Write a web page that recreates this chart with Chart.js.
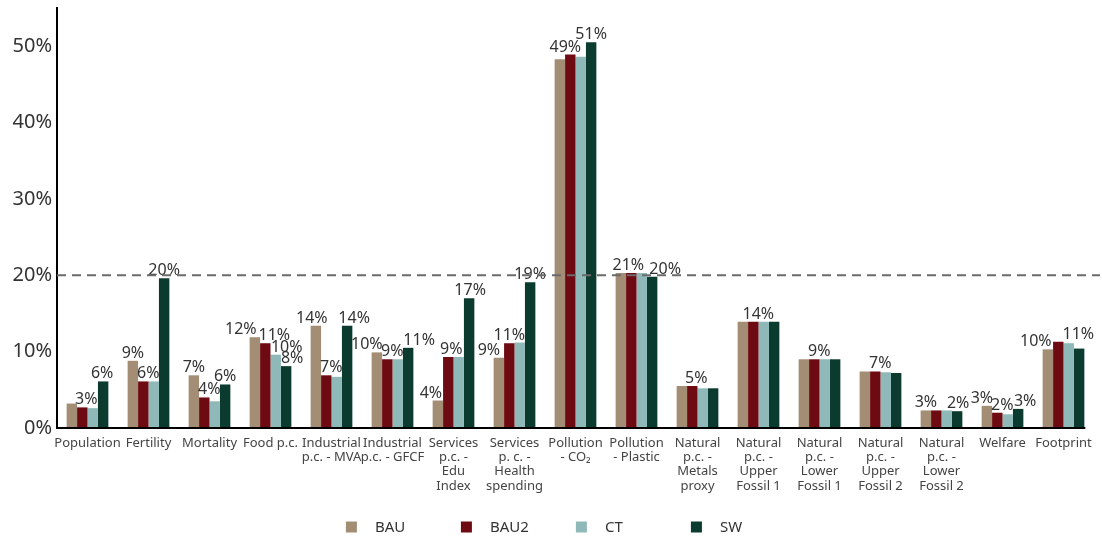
<!DOCTYPE html>
<html>
<head>
<meta charset="utf-8">
<style>
  html, body { margin: 0; padding: 0; background: #fff; }
  #wrap { width: 1102px; height: 537px; }
</style>
<script src="https://cdn.jsdelivr.net/npm/chart.js@4/dist/chart.umd.min.js"></script>
</head>
<body>
<div id="wrap"><canvas id="chart" width="1102" height="537"></canvas></div>
<script>
const categories = [
  'Population', 'Fertility', 'Mortality', 'Food p.c.',
  ['Industrial', 'p.c. - MVA'], ['Industrial', 'p.c. - GFCF'],
  ['Services', 'p.c. -', 'Edu', 'Index'], ['Services', 'p. c. -', 'Health', 'spending'],
  ['Pollution', '- CO\u2082'], ['Pollution', '- Plastic'],
  ['Natural', 'p.c. -', 'Metals', 'proxy'], ['Natural', 'p.c. -', 'Upper', 'Fossil 1'],
  ['Natural', 'p.c. -', 'Lower', 'Fossil 1'], ['Natural', 'p.c. -', 'Upper', 'Fossil 2'],
  ['Natural', 'p.c. -', 'Lower', 'Fossil 2'], 'Welfare', 'Footprint'
];

// values in %
const bau  = [3.2, 8.8, 6.9, 11.9, 13.4, 9.9, 3.6, 9.2, 48.3, 20.3, 5.5, 13.9, 9.0, 7.4, 2.3, 2.9, 10.3];
const bau2 = [2.7, 6.1, 4.0, 11.1, 6.9, 9.0, 9.3, 11.1, 48.9, 20.3, 5.5, 13.9, 9.0, 7.4, 2.3, 2.0, 11.3];
const ct   = [2.6, 6.1, 3.5, 9.6, 6.7, 9.0, 9.3, 11.2, 48.6, 20.3, 5.2, 13.9, 9.0, 7.3, 2.3, 1.8, 11.1];
const sw   = [6.1, 19.6, 5.7, 8.1, 13.4, 10.5, 17.0, 19.1, 50.5, 19.8, 5.2, 13.9, 9.0, 7.2, 2.2, 2.5, 10.4];

// value labels shown above some bars
const bauLabels  = [null, '9%', '7%', '12%', '14%', '10%', '4%', '9%', null, null, null, null, null, null, '3%', '3%', '10%'];
const bau2Labels = ['3%', '6%', '4%', '11%', '7%', '9%', '9%', '11%', '49%', '21%', '5%', '14%', '9%', '7%', null, '2%', '11%'];
const ctLabels   = [null, null, null, '10%', null, null, null, null, null, null, null, null, null, null, null, null, null];
const swLabels   = ['6%', '20%', '6%', '8%', '14%', '11%', '17%', '19%', '51%', '20%', null, null, null, null, '2%', '3%', null];

const targetLine = 20;

const seriesNames = ['BAU', 'BAU2', 'CT', 'SW'];
const colors = ['#a38d74', '#6e0a12', '#8fb9b8', '#0b3a2e'];

const valueLabels = {
  id: 'valueLabels',
  afterDatasetsDraw(chart, args, opts) {
    const ctx = chart.ctx;
    ctx.save();
    ctx.font = '16px "Noto Sans"';
    ctx.fillStyle = '#333';
    ctx.textAlign = 'center';
    ctx.textBaseline = 'alphabetic';
    chart.data.datasets.forEach((ds, di) => {
      const meta = chart.getDatasetMeta(di);
      ds.labels.forEach((txt, i) => {
        if (!txt) return;
        const bar = meta.data[i];
        const dx = (opts.shift[di] && opts.shift[di][i]) || 0;
        ctx.fillText(txt, bar.x + dx, bar.y - 3);
      });
    });
    ctx.restore();
  }
};

const extras = {
  id: 'extras',
  afterDraw(chart) {
    const ctx = chart.ctx;
    const area = chart.chartArea;
    const y = chart.scales.y;
    ctx.save();
    // dashed 20% line
    ctx.strokeStyle = '#6b6b6b';
    ctx.lineWidth = 2;
    ctx.setLineDash([9, 6]);
    const ty = y.getPixelForValue(targetLine);
    ctx.beginPath();
    ctx.moveTo(area.left, ty);
    ctx.lineTo(chart.width - 2, ty);
    ctx.stroke();
    ctx.setLineDash([]);

    // x axis line, ends at last bar
    const last = chart.getDatasetMeta(3).data[categories.length - 1];
    ctx.strokeStyle = '#000';
    ctx.lineWidth = 2;
    ctx.beginPath();
    ctx.moveTo(area.left - 1, area.bottom);
    ctx.lineTo(last.x + last.width / 2 + 1, area.bottom);
    ctx.stroke();

    // legend
    ctx.font = '15px "Noto Sans"';
    ctx.fillStyle = '#333';
    ctx.textBaseline = 'middle';
    ctx.textAlign = 'left';
    const step = 115, box = 11, gap = 18;
    const total = step * 3 + box + gap + ctx.measureText(seriesNames[3]).width;
    let x = chart.width / 2 - total / 2 - 7;
    const ly = 527;
    seriesNames.forEach((name, i) => {
      ctx.fillStyle = colors[i];
      ctx.fillRect(x, ly - box / 2, box, box);
      ctx.fillStyle = '#333';
      ctx.fillText(name, x + box + gap, ly + 1);
      x += step;
    });
    ctx.restore();
  }
};

const series = [bau, bau2, ct, sw];
const labelSets = [bauLabels, bau2Labels, ctLabels, swLabels];

new Chart(document.getElementById('chart'), {
  type: 'bar',
  data: {
    labels: categories,
    datasets: series.map((vals, i) => ({
      label: seriesNames[i],
      data: vals,
      labels: labelSets[i],
      backgroundColor: colors[i],
      borderWidth: 0,
      categoryPercentage: 0.684,
      barPercentage: 1.0
    }))
  },
  options: {
    responsive: false,
    animation: false,
    layout: { padding: { top: 8, right: 8, left: 0, bottom: 0 } },
    plugins: {
      legend: { display: false },
      tooltip: { enabled: false },
      valueLabels: {
        shift: [
          [0, 0, 0, -14, -4, -10, -7, -10, 0, 0, 0, 0, 0, 0, 0, -5, -12],
          [4, 5, 5, 9, 5, 5, 3, 0, -5, -3, 4, 5, 5, 5, 0, 5, 20],
          [0, 0, 0, 11, 0, 0, 0, 0, 0, 0, 0, 0, 0, 0, 0, 0, 0],
          [-1, 0, 0, 6, 7, 11, 1, 0, 0, 13, 0, 0, 0, 0, 1, 7, 0]
        ]
      }
    },
    scales: {
      x: {
        grid: { display: false, drawTicks: false },
        border: { display: false },
        ticks: {
          autoSkip: false,
          maxRotation: 0,
          padding: 8,
          color: '#444',
          font: { family: '"Noto Sans"', size: 13, lineHeight: 1.1 }
        },
        afterFit: (scale) => { scale.height = 109; }
      },
      y: {
        min: 0,
        max: 55,
        grid: { display: false, drawTicks: false },
        border: { display: true, color: '#000', width: 2 },
        ticks: {
          stepSize: 10,
          padding: 5,
          color: '#333',
          font: { family: '"Noto Sans"', size: 20 },
          callback: (v) => v + '%'
        },
        afterBuildTicks: (scale) => {
          scale.ticks = scale.ticks.filter(t => t.value % 10 === 0);
        },
        afterFit: (scale) => {
          scale.width = 57;
          scale.paddingTop = 0;
          scale.paddingBottom = 0;
        }
      }
    }
  },
  plugins: [valueLabels, extras]
});
</script>
</body>
</html>
